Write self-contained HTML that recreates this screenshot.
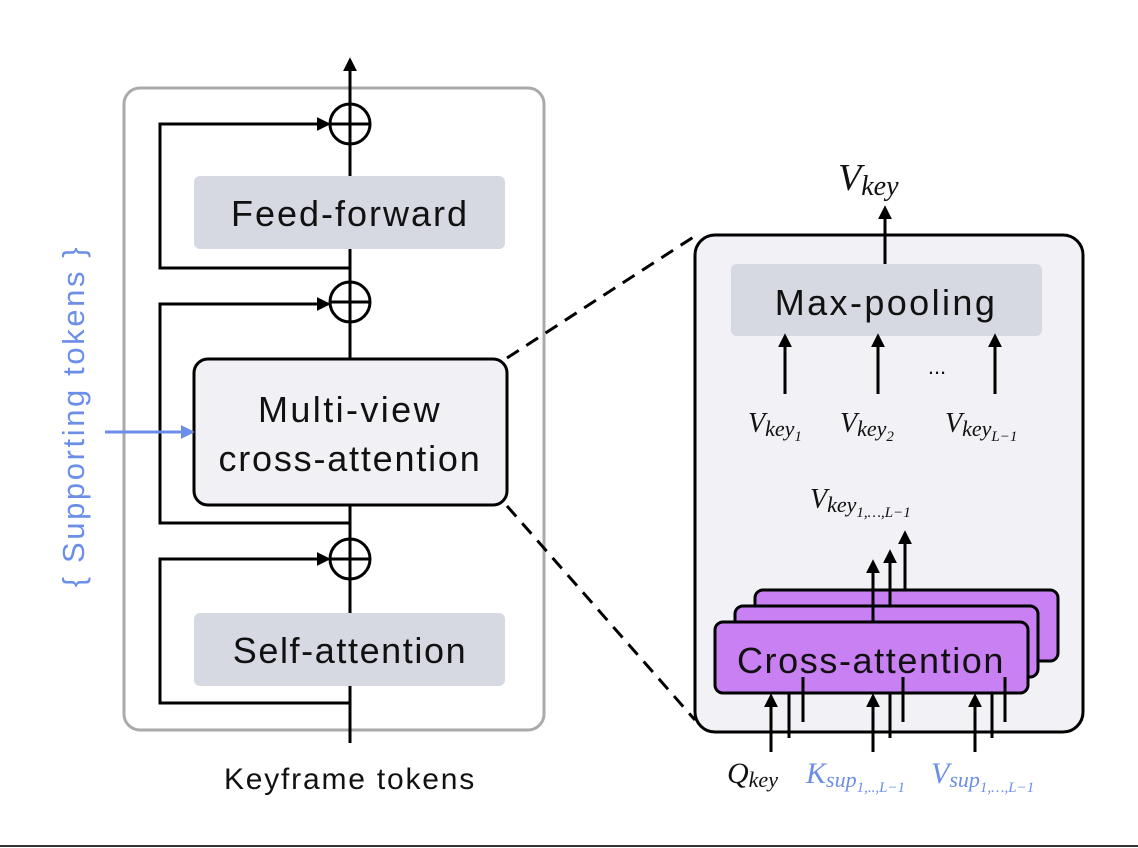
<!DOCTYPE html>
<html><head><meta charset="utf-8"><style>
html,body{margin:0;padding:0;background:#fff;}
svg{display:block;}
text{font-family:"Liberation Sans","DejaVu Sans",sans-serif;}
.m{font-family:"Liberation Serif","DejaVu Serif",serif;font-style:italic;}
</style></head><body>
<svg width="1138" height="848" viewBox="0 0 1138 848" xmlns="http://www.w3.org/2000/svg">
<defs>
<marker id="ab" viewBox="0 0 10 10" markerWidth="14" markerHeight="14" refX="8" refY="5" orient="auto" markerUnits="userSpaceOnUse"><path d="M0,0 L10,5 L0,10 z" fill="#000"/></marker>
<marker id="ablue" viewBox="0 0 10 10" markerWidth="14" markerHeight="14" refX="8" refY="5" orient="auto" markerUnits="userSpaceOnUse"><path d="M0,0 L10,5 L0,10 z" fill="#6b8ee8"/></marker>
</defs>
<rect x="0" y="0" width="1138" height="848" fill="#fff"/>
<line x1="0" y1="846" x2="1138" y2="846" stroke="#333" stroke-width="2"/>
<rect x="124" y="88" width="420" height="642" rx="16" fill="#fff" stroke="#aaa" stroke-width="3"/>
<line x1="350" y1="743" x2="350" y2="60" stroke="#000" stroke-width="3" marker-end="url(#ab)"/>
<g fill="none" stroke="#000" stroke-width="3">
<polyline points="350,268 160,268 160,124 328,124" marker-end="url(#ab)"/>
<polyline points="350,523 160,523 160,304 328,304" marker-end="url(#ab)"/>
<polyline points="350,703 160,703 160,559 328,559" marker-end="url(#ab)"/>
</g>
<rect x="194" y="176" width="311" height="73" rx="6" fill="#d6d9e2"/>
<text x="350" y="226" font-size="36" letter-spacing="2" text-anchor="middle" fill="#111">Feed-forward</text>
<rect x="194" y="613" width="311" height="73" rx="6" fill="#d6d9e2"/>
<text x="350" y="663" font-size="36" letter-spacing="1.6" text-anchor="middle" fill="#111">Self-attention</text>
<rect x="194" y="359" width="313" height="146" rx="14" fill="#f1f1f5" stroke="#000" stroke-width="3"/>
<text x="350" y="422" font-size="36" letter-spacing="2.4" text-anchor="middle" fill="#111">Multi-view</text>
<text x="350" y="471" font-size="36" letter-spacing="1.8" text-anchor="middle" fill="#111">cross-attention</text>
<g fill="#fff" stroke="#000" stroke-width="3">
<circle cx="350" cy="124" r="20"/><circle cx="350" cy="302" r="20"/><circle cx="350" cy="559" r="20"/>
</g>
<g stroke="#000" stroke-width="3">
<line x1="330" y1="124" x2="370" y2="124"/><line x1="350" y1="104" x2="350" y2="144"/>
<line x1="330" y1="302" x2="370" y2="302"/><line x1="350" y1="282" x2="350" y2="322"/>
<line x1="330" y1="559" x2="370" y2="559"/><line x1="350" y1="539" x2="350" y2="579"/>
</g>
<text x="350" y="789" font-size="30" letter-spacing="1.8" text-anchor="middle" fill="#111">Keyframe tokens</text>
<text transform="translate(84,416) rotate(-90)" font-size="31" letter-spacing="2.6" text-anchor="middle" fill="#6b8ee8">{ Supporting tokens }</text>
<line x1="105" y1="432" x2="192" y2="432" stroke="#6b8ee8" stroke-width="3" marker-end="url(#ablue)"/>
<g stroke="#000" stroke-width="3" stroke-dasharray="14,9">
<line x1="507" y1="358" x2="695" y2="236"/>
<line x1="507" y1="506" x2="695" y2="720"/>
</g>
<rect x="695" y="235" width="388" height="497" rx="20" fill="#f1f1f6" stroke="#000" stroke-width="3"/>
<rect x="731" y="264" width="311" height="72" rx="6" fill="#d6d9e2"/>
<text x="886" y="315" font-size="36" letter-spacing="2.4" text-anchor="middle" fill="#111">Max-pooling</text>
<line x1="885" y1="264" x2="885" y2="208" stroke="#000" stroke-width="3" marker-end="url(#ab)"/>
<text x="838" y="190" font-size="38" class="m" fill="#111">V<tspan font-size="28" dy="5">key</tspan></text>
<g stroke="#000" stroke-width="3">
<line x1="785" y1="394" x2="785" y2="336" marker-end="url(#ab)"/>
<line x1="878" y1="394" x2="878" y2="336" marker-end="url(#ab)"/>
<line x1="995" y1="394" x2="995" y2="336" marker-end="url(#ab)"/>
</g>
<text x="937" y="374" font-size="22" text-anchor="middle" fill="#111">...</text>
<g fill="#111">
<text x="748" y="432" class="m" font-size="28">V<tspan font-size="22" dy="4">key</tspan><tspan font-size="15" dy="5">1</tspan></text>
<text x="840" y="432" class="m" font-size="28">V<tspan font-size="22" dy="4">key</tspan><tspan font-size="15" dy="5">2</tspan></text>
<text x="945" y="432" class="m" font-size="28">V<tspan font-size="22" dy="4">key</tspan><tspan font-size="15" dy="5">L−1</tspan></text>
<text x="810" y="508" class="m" font-size="28">V<tspan font-size="22" dy="4">key</tspan><tspan font-size="15" dy="5">1,…,L−1</tspan></text>
</g>
<g stroke="#000" stroke-width="3" fill="#c880f2">
<rect x="755" y="590" width="303" height="71" rx="8"/>
<rect x="735" y="606" width="303" height="71" rx="8"/>
<rect x="715" y="622" width="313" height="71" rx="8"/>
</g>
<text x="871" y="673" font-size="36" letter-spacing="1.6" text-anchor="middle" fill="#111">Cross-attention</text>
<g stroke="#000" stroke-width="3">
<line x1="873" y1="622" x2="873" y2="562" marker-end="url(#ab)"/>
<line x1="890" y1="606" x2="890" y2="552" marker-end="url(#ab)"/>
<line x1="905" y1="590" x2="905" y2="533" marker-end="url(#ab)"/>
<line x1="771" y1="752" x2="771" y2="696" marker-end="url(#ab)"/>
<line x1="873" y1="752" x2="873" y2="696" marker-end="url(#ab)"/>
<line x1="975" y1="752" x2="975" y2="696" marker-end="url(#ab)"/>
<line x1="789" y1="738" x2="789" y2="693"/>
<line x1="890" y1="738" x2="890" y2="693"/>
<line x1="992" y1="738" x2="992" y2="693"/>
<line x1="803" y1="722" x2="803" y2="677"/>
<line x1="903" y1="722" x2="903" y2="677"/>
<line x1="1005" y1="722" x2="1005" y2="677"/>
</g>
<text x="727" y="783" class="m" font-size="30" fill="#111">Q<tspan font-size="22" dy="4">key</tspan></text>
<text x="806" y="783" class="m" font-size="30" fill="#6b8ee8">K<tspan font-size="22" dy="4">sup</tspan><tspan font-size="15" dy="5">1,..,L−1</tspan></text>
<text x="931" y="783" class="m" font-size="30" fill="#6b8ee8">V<tspan font-size="22" dy="4">sup</tspan><tspan font-size="15" dy="5">1,…,L−1</tspan></text>
</svg>
</body></html>
